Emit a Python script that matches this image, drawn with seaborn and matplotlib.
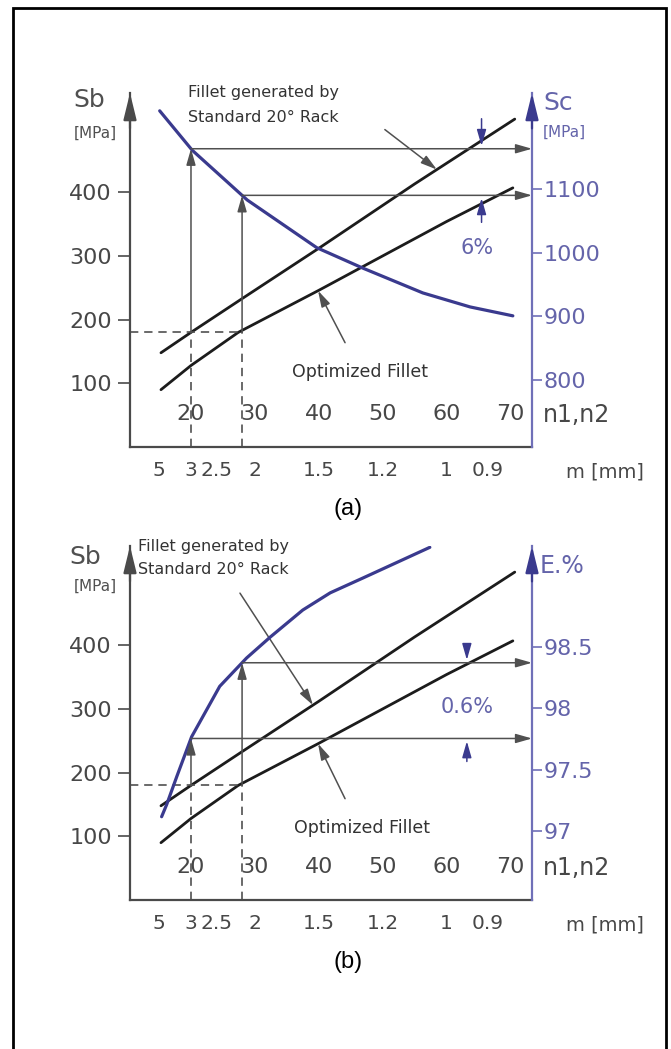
import numpy as np
import matplotlib
matplotlib.use("Agg")
import matplotlib.pyplot as plt
import seaborn as sns
from matplotlib.patches import Rectangle

# x axis: number of teeth n1,n2 ; module m [mm] tick positions on the same axis
n_ticks = [20, 30, 40, 50, 60, 70]
m_tick_pos = [15, 20, 24, 30, 40, 50, 60, 66.5]
m_tick_labels = ["5", "3", "2.5", "2", "1.5", "1.2", "1", "0.9"]

# bending stress Sb [MPa] (same in both panels)
n_std = [15.3, 20, 28, 40, 55, 70.7]
sb_std = [148, 180, 233, 312, 413, 515]
n_opt = [15.3, 20, 27.4, 40, 50, 60, 70.4]
sb_opt = [90, 128, 180, 246, 300, 354, 407]
sb_ticks = [100, 200, 300, 400]

# (a) contact stress Sc [MPa]
n_sc = [15.1, 20.2, 28.8, 39.7, 46.9, 56.3, 63.7, 70.4]
sc = [1223, 1161, 1083, 1008, 976, 937, 915, 901]
sc_ticks = [800, 900, 1000, 1100]

# (b) efficiency E [%]
n_eff = [15.4, 16.2, 17.8, 20.1, 24.5, 28.7, 32.4, 37.5, 41.8, 46.9, 57.4]
eff = [97.12, 97.22, 97.45, 97.77, 98.18, 98.41, 98.58, 98.80, 98.94, 99.06, 99.31]
eff_ticks = [97, 97.5, 98, 98.5]
eff_tick_labels = ["97", "97.5", "98", "98.5"]

# reading points used for the comparison
n_guide = [20, 28]
sb_level = 180

BLACK = "#1c1c1c"
GREY = "#505050"
AXC = "#4a4a4a"
TXT = "#474747"
BLUE = "#3a3a8e"
BLUE_AX = "#7070b8"
BLUE_TXT = "#6464aa"

sns.set_style("white")
plt.rcParams["font.family"] = ["DejaVu Sans"]

W, H = 671, 1049
PX_PER_MPA = 0.6367
fig = plt.figure(figsize=(W / 100, H / 100), dpi=100)

# outer frame (open at the bottom, like the cropped scan)
fig.patches.append(Rectangle((13 / W, -0.05), (666 - 13) / W, 1.05 - 8 / H,
                             transform=fig.transFigure, fill=False, lw=2, ec="black"))


def ftext(x, y, s, **kw):
    fig.text(x / W, 1 - y / H, s, **kw)


def panel(top, bottom, nb, yb, y2lo, y2k, y2ticks, y2labels,
          pct, n_pct, up_px, dn_px, pct_xy, fillet_lines, fillet_arrow,
          opt_xy, opt_arrow, sb_xy, mpa_xy):
    ax = fig.add_axes([130 / W, 1 - bottom / H, 402 / W, (bottom - top) / H])
    sb_top = (bottom - top) / PX_PER_MPA
    ax.set_xlim(10.45, 73.4)
    ax.set_ylim(0, sb_top)
    ax.xaxis.remove_overlapping_locs = False

    sns.lineplot(x=n_std, y=sb_std, ax=ax, color=BLACK, lw=2)
    sns.lineplot(x=n_opt, y=sb_opt, ax=ax, color=BLACK, lw=2)

    ax2 = ax.twinx()
    ax2.set_ylim(y2lo, y2lo + y2k * sb_top)
    sns.lineplot(x=nb, y=yb, ax=ax2, color=BLUE, lw=2.3)

    # spines
    for s in ["top", "right"]:
        ax.spines[s].set_visible(False)
    for s in ["top", "left", "bottom"]:
        ax2.spines[s].set_visible(False)
    for s in ["left", "bottom"]:
        ax.spines[s].set_color(AXC)
        ax.spines[s].set_linewidth(1.6)
    ax2.spines["right"].set_color(BLUE_AX)
    ax2.spines["right"].set_linewidth(1.6)
    arrow_head = "-|>,head_length=0.9,head_width=0.22"
    for a, x, c in [(ax, 0, AXC), (ax2, 1, BLUE)]:
        a.annotate("", xy=(x, 1.0), xytext=(x, 0.9), xycoords="axes fraction",
                   arrowprops=dict(arrowstyle=arrow_head, color=c, lw=1.6,
                                   shrinkA=0, shrinkB=0, mutation_scale=18),
                   annotation_clip=False)

    # ticks
    ax.set_yticks(sb_ticks)
    ax.tick_params(axis="y", direction="out", length=9, width=1.2, color=AXC,
                   labelsize=16, labelcolor=TXT, pad=4)
    ax.set_xticks(m_tick_pos)
    ax.set_xticklabels(m_tick_labels)
    ax.set_xticks(n_ticks, minor=True)
    ax.set_xticklabels([str(v) for v in n_ticks], minor=True)
    ax.tick_params(axis="x", which="major", direction="out", length=7, width=1.2,
                   color=AXC, labelsize=14.5, labelcolor=TXT, pad=3)
    ax.tick_params(axis="x", which="minor", direction="in", length=8, width=1.2,
                   color=AXC, labelsize=16, labelcolor=TXT, pad=-31)
    ax2.set_yticks(y2ticks)
    ax2.set_yticklabels(y2labels)
    ax2.tick_params(axis="y", direction="out", length=7.5, width=1.2, color=BLUE_AX,
                    labelsize=16, labelcolor=BLUE_TXT, pad=1)

    # reading guides
    xmin, xmax = ax.get_xlim()
    yv = np.interp(n_guide, nb, yb)
    dash = (0, (5, 3.5))
    ax.plot([xmin, n_guide[1]], [sb_level, sb_level], ls=dash, color=GREY, lw=1.2)
    head = "-|>,head_length=0.7,head_width=0.2"
    for n, v in zip(n_guide, yv):
        ax.plot([n, n], [0, sb_level], ls=dash, color=GREY, lw=1.2)
        ax2.annotate("", xy=(n, v), xytext=(n, sb_level), textcoords=ax.transData,
                     arrowprops=dict(arrowstyle=head, color=GREY, lw=1.1,
                                     shrinkA=0, shrinkB=0, mutation_scale=14))
        ax2.annotate("", xy=(xmax, v), xytext=(n, v),
                     arrowprops=dict(arrowstyle=head, color=GREY, lw=1.1,
                                     shrinkA=0, shrinkB=0, mutation_scale=14),
                     annotation_clip=False)

    # percentage difference
    hi, lo = max(yv), min(yv)
    for v, off in [(hi, dn_px), (lo, -up_px)]:
        ax2.annotate("", xy=(n_pct, v), xytext=(0, off), textcoords="offset pixels",
                     arrowprops=dict(arrowstyle=head, color=BLUE, lw=1.1,
                                     shrinkA=0, shrinkB=2, mutation_scale=14))
    ftext(*pct_xy, pct, fontsize=15, color=BLUE_TXT, ha="center", va="center")

    # curve captions
    for (x, y), line in zip(fillet_lines, ["Fillet generated by", "Standard 20\u00b0 Rack"]):
        ftext(x, y, line, fontsize=11.5, color="#333333", ha="left", va="center")
    n_f, off_f = fillet_arrow
    ax.annotate("", xy=(n_f, np.interp(n_f, n_std, sb_std)), xytext=off_f,
                textcoords="offset pixels",
                arrowprops=dict(arrowstyle=head, color=GREY, lw=1.1, shrinkA=0,
                                shrinkB=0, mutation_scale=14))
    ftext(*opt_xy, "Optimized Fillet", fontsize=12.5, color="#333333", ha="center", va="center")
    n_o, off_o = opt_arrow
    ax.annotate("", xy=(n_o, np.interp(n_o, n_opt, sb_opt)), xytext=off_o,
                textcoords="offset pixels",
                arrowprops=dict(arrowstyle=head, color=GREY, lw=1.1, shrinkA=0,
                                shrinkB=0, mutation_scale=14))

    # axis names
    ftext(*sb_xy, "Sb", fontsize=18, color="#505050", ha="center", va="center")
    ftext(*mpa_xy, "[MPa]", fontsize=11, color="#505050", ha="center", va="center")
    ftext(543, bottom - 32, "n1,n2", fontsize=17, color=TXT, ha="left", va="center")
    ftext(566, bottom + 25, "m [mm]", fontsize=14, color=TXT, ha="left", va="center")
    return ax, ax2


# (a) contact stress
panel(93, 447, n_sc, sc, 695, 1.0, sc_ticks, [str(v) for v in sc_ticks],
      "6%", 65.5, 27, 30, (477, 248), [(188, 93), (188, 117)], (58.5, (-52, 40)),
      (360, 372), (39.9, (27, -52)), (89, 100), (95, 133))
ftext(543, 103, "Sc", fontsize=18, color=BLUE_TXT, ha="left", va="center")
ftext(543, 132, "[MPa]", fontsize=11, color=BLUE_TXT, ha="left", va="center")
ftext(348, 509, "(a)", fontsize=17, color="black", ha="center", va="center",
      family="Liberation Sans")

# (b) efficiency
panel(546, 900, n_eff, eff, 96.443, 1 / 193.2, eff_ticks, eff_tick_labels,
      "0.6%", 63.2, 23, 18, (467, 707), [(138, 546), (138, 569)], (39.1, (-73, 112)),
      (362, 828), (39.9, (27, -55)), (85, 557), (95, 586))
ftext(540, 566, "E.%", fontsize=17, color=BLUE_TXT, ha="left", va="center")
ftext(348, 962, "(b)", fontsize=17, color="black", ha="center", va="center",
      family="Liberation Sans")

fig.savefig("out.png", dpi=100)
